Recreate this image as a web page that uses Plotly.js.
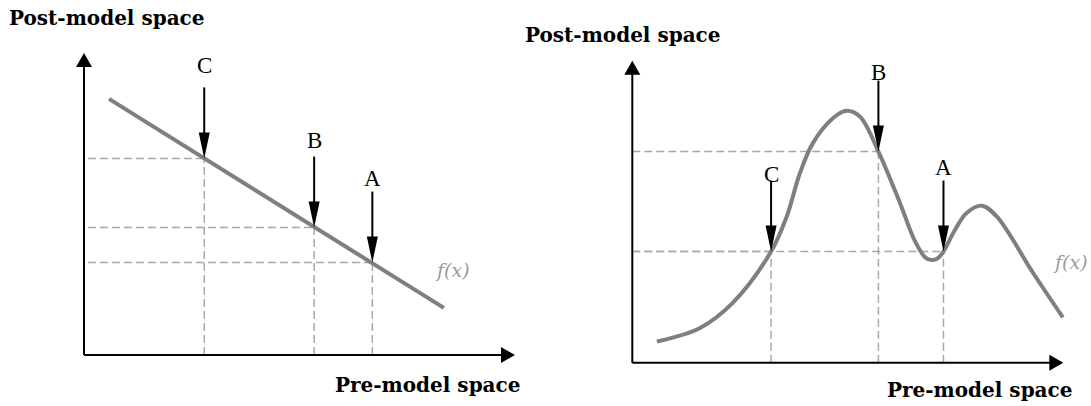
<!DOCTYPE html>
<html>
<head>
<meta charset="utf-8">
<script src="https://cdn.plot.ly/plotly-3.0.1.min.js"></script>
<style>
  html, body { margin: 0; padding: 0; background: #fff; }
  #chart { width: 1091px; height: 406px; }
</style>
</head>
<body>
<div id="chart"></div>
<script>
// ---- data (axis units: each axis arrow is 10 units long) ----
// Left diagram: monotone mapping f(x), a straight line
const linearX = [0.58, 8.35];
const linearY = [8.48, 1.56];

// Right diagram: non-monotone mapping f(x)
const curveX = [0.57, 1.57, 2.33, 3.22, 3.58, 3.89, 4.19, 4.66, 4.97, 5.28, 5.71, 6.21, 6.55, 6.80, 6.95, 7.08, 7.22, 7.45, 7.75, 8.11, 8.45, 9.30, 9.99];
const curveY = [0.70, 1.15, 1.98, 3.68, 4.83, 6.28, 7.27, 8.10, 8.34, 8.15, 6.99, 5.29, 4.05, 3.48, 3.40, 3.45, 3.68, 4.30, 4.95, 5.20, 4.85, 2.97, 1.50];

// Marked inputs and their outputs
const pointNames = ['C', 'B', 'A'];
const linearPointX = [2.79, 5.34, 6.69];
const linearPointY = [6.51, 4.22, 3.06];
const curvePointX = [3.22, 5.71, 7.22];
const curvePointY = [3.68, 6.99, 3.68];

const axisLength = 10;
const yAxisTitle = 'Post-model space';
const xAxisTitle = 'Pre-model space';
const curveLabel = 'f(x)';

// ---- geometry & style ----
const W = 1091, H = 406;
const UX = 43.1, UY = 30.2;           // pixels per axis unit
const BLACK = '#000000';
const CURVE = '#7f7f7f';
const GUIDE = '#a8a8a8';
const TITLE_FONT = 'DejaVu Serif';
const LABEL_FONT = 'Liberation Serif';

const panels = [
  {
    xa: 'x', ya: 'y', origin: [84, 355], dom: [0, 0.5],
    fx: linearX, fy: linearY, shape: 'linear',
    px: linearPointX, py: linearPointY,
    guideStart: 0.09, lift: [93, 87, 84],
    fLabel: [8.56, 2.81],
    yTitle: [7, 18], xTitle: [333, 385]
  },
  {
    xa: 'x2', ya: 'y2', origin: [632.3, 362.7], dom: [0.5, 1],
    fx: curveX, fy: curveY, shape: 'spline',
    px: curvePointX, py: curvePointY,
    guideStart: 0, lift: [77, 79, 84],
    fLabel: [10.16, 3.33],
    yTitle: [523, 35], xTitle: [885, 390]
  }
];

const traces = [];
const shapes = [];
const annotations = [];
const layout = {
  width: W, height: H,
  margin: { l: 0, r: 0, t: 0, b: 0 },
  paper_bgcolor: '#ffffff', plot_bgcolor: '#ffffff',
  showlegend: false,
  shapes: shapes, annotations: annotations
};

const ARROW_LEN = 71, HEAD_LEN = 26, HEAD_HALF = 5.5;
const AX_HEAD_LEN = 14, AX_HEAD_HALF = 8;

panels.forEach((p, i) => {
  const sfx = i === 0 ? '' : '2';
  const [ox, oy] = p.origin;
  layout['xaxis' + sfx] = {
    domain: p.dom, visible: false, fixedrange: true,
    range: [(p.dom[0] * W - ox) / UX, (p.dom[1] * W - ox) / UX]
  };
  layout['yaxis' + sfx] = {
    domain: [0, 1], visible: false, fixedrange: true,
    range: [(oy - H) / UY, oy / UY]
  };
  if (i > 0) {
    layout['yaxis' + sfx].anchor = 'x' + sfx;
    layout['xaxis' + sfx].anchor = 'y' + sfx;
  }

  // f(x)
  traces.push({
    type: 'scatter', mode: 'lines', x: p.fx, y: p.fy,
    xaxis: p.xa, yaxis: p.ya,
    line: { color: CURVE, width: 4, shape: p.shape, smoothing: 1 },
    hoverinfo: 'skip'
  });

  // axes with arrowheads
  shapes.push({ type: 'line', xref: p.xa, yref: p.ya, x0: 0, y0: 0,
    x1: axisLength - 8 / UX, y1: 0, line: { color: BLACK, width: 2 } });
  shapes.push({ type: 'line', xref: p.xa, yref: p.ya, x0: 0, y0: 0,
    x1: 0, y1: axisLength - 8 / UY, line: { color: BLACK, width: 2 } });
  shapes.push({ type: 'path', xref: p.xa, yref: p.ya,
    xsizemode: 'pixel', ysizemode: 'pixel', xanchor: axisLength, yanchor: 0,
    path: `M0,0 L${-AX_HEAD_LEN},${AX_HEAD_HALF} L${-AX_HEAD_LEN},${-AX_HEAD_HALF} Z`,
    fillcolor: BLACK, line: { width: 0 } });
  shapes.push({ type: 'path', xref: p.xa, yref: p.ya,
    xsizemode: 'pixel', ysizemode: 'pixel', xanchor: 0, yanchor: axisLength,
    path: `M0,0 L${-AX_HEAD_HALF},${-AX_HEAD_LEN} L${AX_HEAD_HALF},${-AX_HEAD_LEN} Z`,
    fillcolor: BLACK, line: { width: 0 } });

  // marked points: guides, arrows, labels
  pointNames.forEach((name, k) => {
    const x = p.px[k], y = p.py[k];
    const guide = { color: GUIDE, width: 1.5, dash: '8px,4px' };
    shapes.push({ type: 'line', layer: 'below', xref: p.xa, yref: p.ya,
      x0: p.guideStart, y0: y, x1: x, y1: y, line: guide });
    shapes.push({ type: 'line', layer: 'below', xref: p.xa, yref: p.ya,
      x0: x, y0: 0, x1: x, y1: y, line: guide });
    shapes.push({ type: 'line', xref: p.xa, yref: p.ya,
      ysizemode: 'pixel', yanchor: y, x0: x, x1: x, y0: HEAD_LEN - 4, y1: ARROW_LEN,
      line: { color: BLACK, width: 2 } });
    shapes.push({ type: 'path', xref: p.xa, yref: p.ya,
      xsizemode: 'pixel', ysizemode: 'pixel', xanchor: x, yanchor: y,
      path: `M0,0 L${-HEAD_HALF},${HEAD_LEN} L${HEAD_HALF},${HEAD_LEN} Z`,
      fillcolor: BLACK, line: { width: 0 } });
    annotations.push({ xref: p.xa, yref: p.ya, x: x, y: y, yshift: p.lift[k],
      text: name, showarrow: false, xanchor: 'center', yanchor: 'middle',
      font: { family: LABEL_FONT, size: 23, color: BLACK } });
  });

  // curve name
  annotations.push({ xref: p.xa, yref: p.ya, x: p.fLabel[0], y: p.fLabel[1],
    text: curveLabel, showarrow: false, xanchor: 'center', yanchor: 'middle',
    font: { family: TITLE_FONT, size: 19, color: '#9a9a9a', style: 'italic', weight: 'normal' } });

  // axis titles
  annotations.push({ xref: 'paper', yref: 'paper',
    x: p.yTitle[0] / W, y: 1 - p.yTitle[1] / H, xanchor: 'left', yanchor: 'middle',
    text: yAxisTitle, showarrow: false,
    font: { family: TITLE_FONT, size: 20, color: BLACK, weight: 'bold' } });
  annotations.push({ xref: 'paper', yref: 'paper',
    x: p.xTitle[0] / W, y: 1 - p.xTitle[1] / H, xanchor: 'left', yanchor: 'middle',
    text: xAxisTitle, showarrow: false,
    font: { family: TITLE_FONT, size: 20, color: BLACK, weight: 'bold' } });
});

Plotly.newPlot('chart', traces, layout, { staticPlot: true, displayModeBar: false });
</script>
</body>
</html>
